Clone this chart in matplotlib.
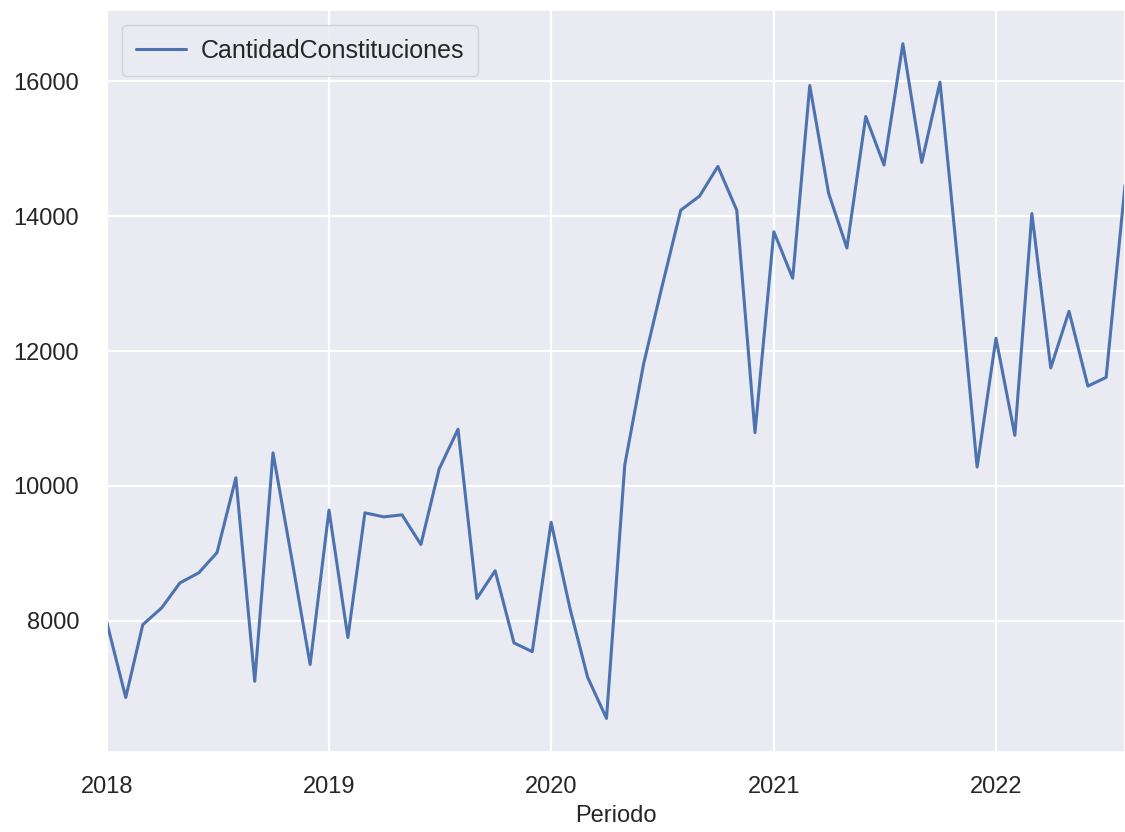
import matplotlib
matplotlib.use("Agg")
import matplotlib.pyplot as plt
import matplotlib.dates as mdates
import numpy as np
import pandas as pd
import seaborn as sns

sns.set_theme(style="darkgrid")
plt.rcParams['font.family'] = ['Liberation Sans', 'DejaVu Sans']

# monthly values, 2018-01 .. 2022-08
periodo = pd.date_range("2018-01-01", "2022-08-01", freq="MS")
cantidad = [
    7970, 6860, 7940, 8190, 8560, 8710, 9010, 10120, 7100, 10490, 8910, 7350,   # 2018
    9640, 7750, 9600, 9540, 9570, 9130, 10250, 10840, 8330, 8740, 7670, 7540,   # 2019
    9460, 8180, 7160, 6550, 10310, 11810, 12950, 14090, 14300, 14740, 14090, 10790,  # 2020
    13770, 13080, 15940, 14340, 13530, 15480, 14760, 16560, 14800, 15990, 13150, 10280,  # 2021
    12190, 10750, 14040, 11750, 12590, 11480, 11610, 14460,  # 2022
]
etiqueta = "CantidadConstituciones"

fig = plt.figure(figsize=(11.25, 8.32), dpi=100)
ax = fig.add_axes([0.095, 0.096, 0.905, 0.892])

ax.plot(periodo, cantidad, color="#4C72B0", lw=2.2, label=etiqueta)
ax.set_xlim(periodo[0], periodo[-1])
ax.margins(y=0.05)

ax.xaxis.set_major_locator(mdates.YearLocator())
ax.xaxis.set_major_formatter(mdates.DateFormatter("%Y"))
ax.tick_params(axis="y", labelsize=17, colors="#262626", pad=14)
ax.tick_params(axis="x", labelsize=17, colors="#262626", pad=11)
ax.grid(color="white", lw=1.6)

ax.set_xlabel("Periodo", fontsize=17, color="#262626", labelpad=5)
ax.legend(loc="upper left", fontsize=18, borderaxespad=0.6, borderpad=0.55,
          handlelength=2.0, handletextpad=0.6, frameon=True)

fig.savefig("out.png", dpi=100)
